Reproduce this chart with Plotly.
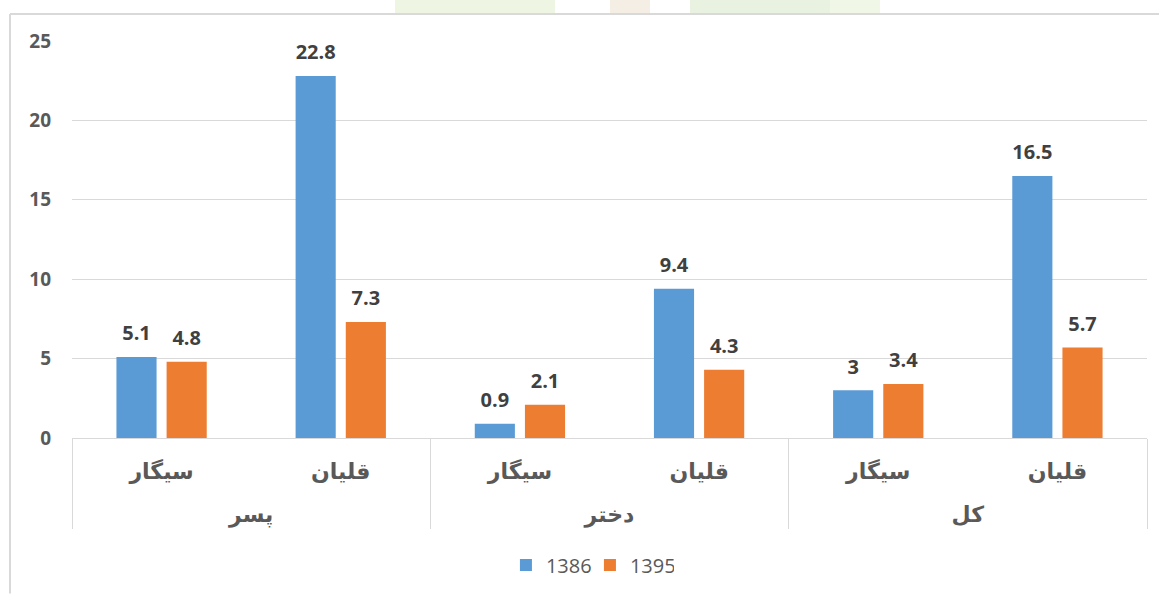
import plotly.graph_objects as go

groups = ["پسر", "پسر", "دختر", "دختر", "کل", "کل"]
items = ["سیگار", "قلیان", "سیگار", "قلیان", "سیگار", "قلیان"]
series_names = ["1386", "1395"]
values_1386 = [5.1, 22.8, 0.9, 9.4, 3, 16.5]
values_1395 = [4.8, 7.3, 2.1, 4.3, 3.4, 5.7]
colors = ["#5b9bd5", "#ed7d31"]
y_ticks = [0, 5, 10, 15, 20, 25]

W, H = 1159, 595
L, R, T, B = 72, 12, 41, 156

# outer labels pushed one line lower to mimic the reference spacing
outer = ["<br>" + g for g in groups]

fig = go.Figure()
for i, (name, vals, col) in enumerate(zip(series_names, [values_1386, values_1395], colors)):
    fig.add_trace(go.Bar(
        x=[outer, items], y=vals, name=name, marker_color=col,
        marker_line_width=0, offsetgroup=str(i),
    ))
for i, vals in enumerate([values_1386, values_1395]):
    fig.add_trace(go.Scatter(
        x=[outer, items], y=vals, mode="markers+text", showlegend=False,
        offsetgroup=str(i), hoverinfo="skip",
        marker=dict(size=17, opacity=0, color="white"),
        text=[f"{v:g}" for v in vals], textposition="top center",
        textfont=dict(family="Open Sans", size=20, color="#404040", weight="bold"),
        cliponaxis=False,
    ))

pw = W - L - R
ph = H - T - B

def px_x(x):
    return (x - L) / pw

def px_y(y):
    return (H - B - y) / ph

shapes = [
    dict(type="line", xref="paper", yref="paper", x0=px_x(10), x1=px_x(1159),
         y0=px_y(14), y1=px_y(14), line=dict(color="#d9d9d9", width=2)),
    dict(type="line", xref="paper", yref="paper", x0=px_x(10), x1=px_x(10),
         y0=px_y(14), y1=px_y(595), line=dict(color="#d9d9d9", width=2)),
]
for x0, x1, c in [(395, 555, "#eef5e2"), (610, 650, "#f4eee4"), (690, 830, "#e9f1e0"), (830, 880, "#f1f7e6")]:
    shapes.append(dict(type="rect", xref="paper", yref="paper", x0=px_x(x0), x1=px_x(x1),
                       y0=px_y(13), y1=px_y(0), line_width=0, fillcolor=c, layer="below"))

fig.update_layout(
    width=W, height=H,
    margin=dict(l=L, r=R, t=T, b=B, pad=0),
    paper_bgcolor="white", plot_bgcolor="white",
    barmode="group", bargap=0.44, bargroupgap=0.2,
    scattermode="group", scattergap=0.44,
    font=dict(family="DejaVu Sans", color="#595959"),
    legend=dict(orientation="h", x=0.4818, xanchor="center", y=px_y(565), yanchor="middle",
                font=dict(family="Open Sans", size=20, color="#595959"),
                itemwidth=30, traceorder="normal", entrywidth=39),
    shapes=shapes,
    yaxis=dict(range=[0, 25], tickvals=y_ticks, showgrid=True, gridcolor="#d9d9d9",
               gridwidth=1, zeroline=False, showline=False, ticks="",
               ticklabelstandoff=20,
               tickfont=dict(family="Open Sans", size=19, color="#595959", weight="bold")),
    xaxis=dict(type="multicategory", showline=True, linecolor="#d9d9d9", linewidth=1,
               showdividers=True, dividercolor="#d9d9d9", dividerwidth=1,
               ticks="", ticklabelstandoff=14,
               tickfont=dict(family="DejaVu Sans", size=22, color="#595959", weight="bold")),
)

fig.write_html("out.html", config={"displayModeBar": False},
               post_script="document.body.style.margin='0';")
